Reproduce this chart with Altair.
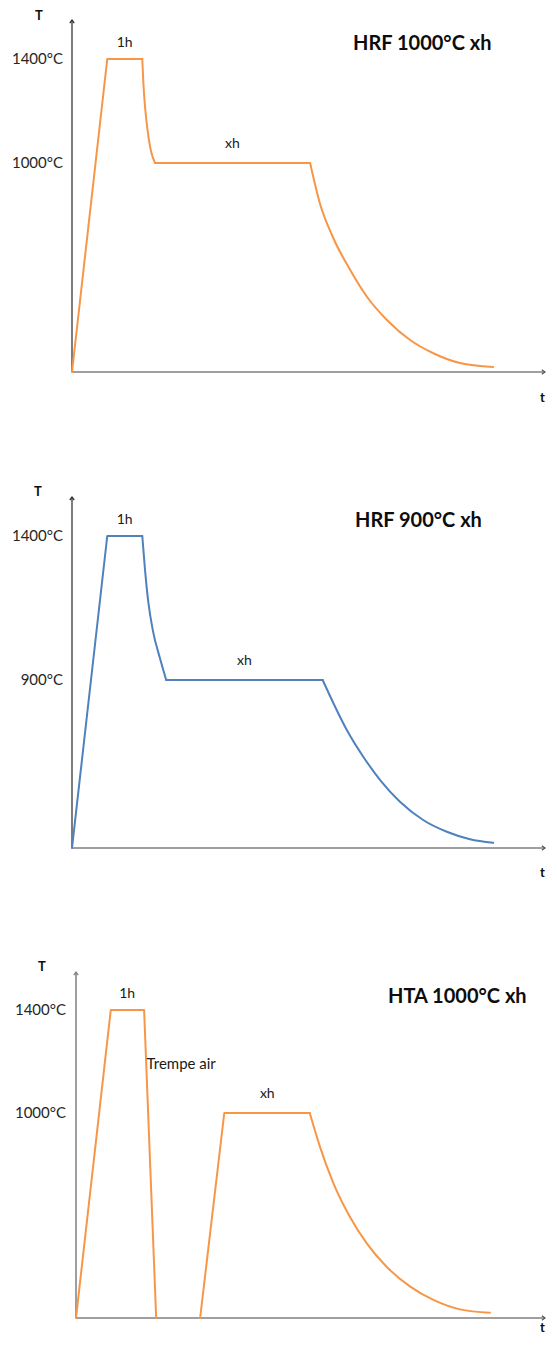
import altair as alt
import pandas as pd

# ---------------- data (schematic time t, temperature T in °C) ----------------
# Panel 1 : HRF 1000°C xh
p1_heat_t = [0, 7.3, 14.55]
p1_heat_T = [0, 1400, 1400]
p1_drop_t = [14.55, 14.8, 15.2, 15.7, 16.4, 17.2]
p1_drop_T = [1400, 1300, 1200, 1119, 1042, 1000]
p1_hold_t = [17.2, 49.3]
p1_hold_T = [1000, 1000]
p1_cool_t = [49.3, 51.3, 54.0, 57.6, 61.1, 65.2, 70.0, 74.7, 80.3, 87.2]
p1_cool_T = [1000, 809, 646, 488, 359, 249, 153, 91, 43, 24]

# Panel 2 : HRF 900°C xh
p2_heat_t = [0, 7.3, 14.55]
p2_heat_T = [0, 1400, 1400]
p2_drop_t = [14.55, 15.1, 15.8, 16.8, 18.2, 19.5]
p2_drop_T = [1400, 1286, 1170, 1067, 976, 900]
p2_hold_t = [19.5, 51.9]
p2_hold_T = [900, 900]
p2_cool_t = [51.9, 54.1, 56.9, 60.3, 63.8, 67.9, 72.7, 77.6, 82.4, 87.2]
p2_cool_T = [900, 777, 632, 489, 364, 248, 150, 87, 47, 28]

# Panel 3 : HTA 1000°C xh
p3_heat_t = [0, 7.2, 14.1, 16.6]
p3_heat_T = [0, 1400, 1400, 0]
p3_reheat_t = [25.7, 30.7, 48.4]
p3_reheat_T = [0, 1000, 1000]
p3_cool_t = [48.4, 50.5, 53.3, 56.7, 60.2, 64.3, 69.2, 74.0, 79.5, 85.7]
p3_cool_T = [1000, 836, 657, 494, 364, 250, 153, 88, 42, 26]

# tick levels / labels
p1_levels = [1400, 1000]
p2_levels = [1400, 900]
p3_levels = [1400, 1000]
level_labels = {1400: "1400°C", 1000: "1000°C", 900: "900°C"}

titles = ["HRF 1000°C xh", "HRF 900°C xh", "HTA 1000°C xh"]

# annotations: (text, t, T)
p1_notes = [("1h", 10.9, 1400), ("xh", 33.2, 1000)]
p2_notes = [("1h", 10.9, 1400), ("xh", 35.7, 900)]
p3_notes = [("1h", 10.6, 1400), ("xh", 39.6, 1000)]
p3_quench = [("Trempe air", 14.6, 1190)]

# ---------------- styling ----------------
FONT = "Lato"
ORANGE = "#F79646"
BLUE = "#4F81BD"
W = 540
PX_PER_T = 4.83


def seg_df(parts):
    rows = []
    for i, (ts, Ts) in enumerate(parts):
        for a, b in zip(ts, Ts):
            rows.append({"t": a, "T": b, "seg": i})
    return pd.DataFrame(rows)


def make_panel(height, color, x0, y_domain, y_range, straight, curves, levels,
               notes, title, title_xy, top_px, T_xy, t_xy, x_end,
               axis_color, axis_width, ylab_dx, extra_notes=None):
    xs = alt.Scale(domain=[0, 100], range=[x0, x0 + 100 * PX_PER_T], nice=False, zero=False)
    ys = alt.Scale(domain=y_domain, range=y_range, nice=False, zero=False)

    def X():
        return alt.X("t:Q", scale=xs, axis=None)

    def Y():
        return alt.Y("T:Q", scale=ys, axis=None)

    origin = pd.DataFrame({"t": [0], "T": [0]})

    y_axis = alt.Chart(origin).mark_rule(color=axis_color, strokeWidth=axis_width).encode(
        x=X(), y=Y(), y2=alt.value(top_px))
    x_axis = alt.Chart(origin).mark_rule(color="#7f7f7f", strokeWidth=1.5).encode(
        x=X(), x2=alt.value(x_end), y=Y())
    y_arrow = alt.Chart(origin).mark_point(
        shape="M-0.7,1L0,0L0.7,1", filled=False, size=40, color=axis_color,
        strokeWidth=1.2, opacity=1).encode(x=X(), y=alt.value(top_px))
    x_arrow = alt.Chart(origin).mark_point(
        shape="M-1,-0.7L0,0L-1,0.7", filled=False, size=40, color="#555555",
        strokeWidth=1.2, opacity=1).encode(x=alt.value(x_end), y=Y())

    lines_straight = alt.Chart(seg_df(straight)).mark_line(
        color=color, strokeWidth=2, strokeJoin="round", strokeCap="round").encode(
        x=X(), y=Y(), detail="seg:N", order="t:Q")
    lines_curve = alt.Chart(seg_df(curves)).mark_line(
        color=color, strokeWidth=2, interpolate="monotone", strokeCap="round").encode(
        x=X(), y=Y(), detail="seg:N", order="t:Q")

    lev_df = pd.DataFrame({"t": [0] * len(levels), "T": levels,
                           "label": [level_labels[v] for v in levels]})
    ylabels = alt.Chart(lev_df).mark_text(
        font=FONT, fontSize=15, color="#262626", align="right", baseline="middle",
        dx=ylab_dx).encode(x=X(), y=Y(), text="label:N")

    note_df = pd.DataFrame(notes, columns=["label", "t", "T"])
    note_1h = alt.Chart(note_df.iloc[[0]]).mark_text(
        font=FONT, fontSize=14, color="#1a1a1a", align="center", baseline="middle",
        dy=-16).encode(x=X(), y=Y(), text="label:N")
    note_xh = alt.Chart(note_df.iloc[[1]]).mark_text(
        font=FONT, fontSize=14, color="#1a1a1a", align="center", baseline="middle",
        dy=-19).encode(x=X(), y=Y(), text="label:N")

    title_mark = alt.Chart(pd.DataFrame({"label": [title]})).mark_text(
        font=FONT, fontSize=20, fontWeight="bold", color="#0d0d0d", align="left",
        baseline="middle").encode(x=alt.value(title_xy[0]), y=alt.value(title_xy[1]),
                                  text="label:N")
    T_mark = alt.Chart(pd.DataFrame({"label": ["T"]})).mark_text(
        font=FONT, fontSize=13, fontWeight="bold", color="#0d0d0d", align="center",
        baseline="middle").encode(x=alt.value(T_xy[0]), y=alt.value(T_xy[1]), text="label:N")
    t_mark = alt.Chart(pd.DataFrame({"label": ["t"]})).mark_text(
        font=FONT, fontSize=13, fontWeight="bold", color="#0d0d0d", align="left",
        baseline="middle").encode(x=alt.value(t_xy[0]), y=alt.value(t_xy[1]),
                                  text="label:N")

    layers = [y_axis, x_axis, y_arrow, x_arrow, lines_straight, lines_curve,
              ylabels, note_1h, note_xh, title_mark, T_mark, t_mark]
    if extra_notes:
        ex_df = pd.DataFrame(extra_notes, columns=["label", "t", "T"])
        layers.append(alt.Chart(ex_df).mark_text(
            font=FONT, fontSize=15, color="#1a1a1a", align="left", baseline="middle").encode(
            x=X(), y=Y(), text="label:N"))
    return alt.layer(*layers).properties(width=W, height=height)


panel1 = make_panel(
    478, ORANGE, 64, [0, 1000, 1400], [364, 155, 51],
    [(p1_heat_t, p1_heat_T), (p1_hold_t, p1_hold_T)],
    [(p1_drop_t, p1_drop_T), (p1_cool_t, p1_cool_T)],
    p1_levels, p1_notes, titles[0], (345, 36), 12, (31, 8), (532, 390), 537,
    "#262626", 1.2, -9)

panel2 = make_panel(
    472, BLUE, 64, [0, 900, 1400], [362, 194, 50],
    [(p2_heat_t, p2_heat_T), (p2_hold_t, p2_hold_T)],
    [(p2_drop_t, p2_drop_T), (p2_cool_t, p2_cool_T)],
    p2_levels, p2_notes, titles[1], (347, 35), 11, (30, 6), (532, 387), 537,
    "#262626", 1.2, -9)

panel3 = make_panel(
    378, ORANGE, 68, [0, 1000, 1400], [360, 155, 52],
    [(p3_heat_t, p3_heat_T), (p3_reheat_t, p3_reheat_T)],
    [(p3_cool_t, p3_cool_T)],
    p3_levels, p3_notes, titles[2], (380, 39), 14, (34, 9), (532, 370), 537,
    "#7f7f7f", 1.5, -10, extra_notes=p3_quench)

chart = alt.vconcat(panel1, panel2, panel3, spacing=0, bounds="flush").resolve_scale(
    x="independent", y="independent"
).properties(padding=0).configure_view(stroke=None)

chart.save("out.html", embed_options={"renderer": "svg", "actions": False})
